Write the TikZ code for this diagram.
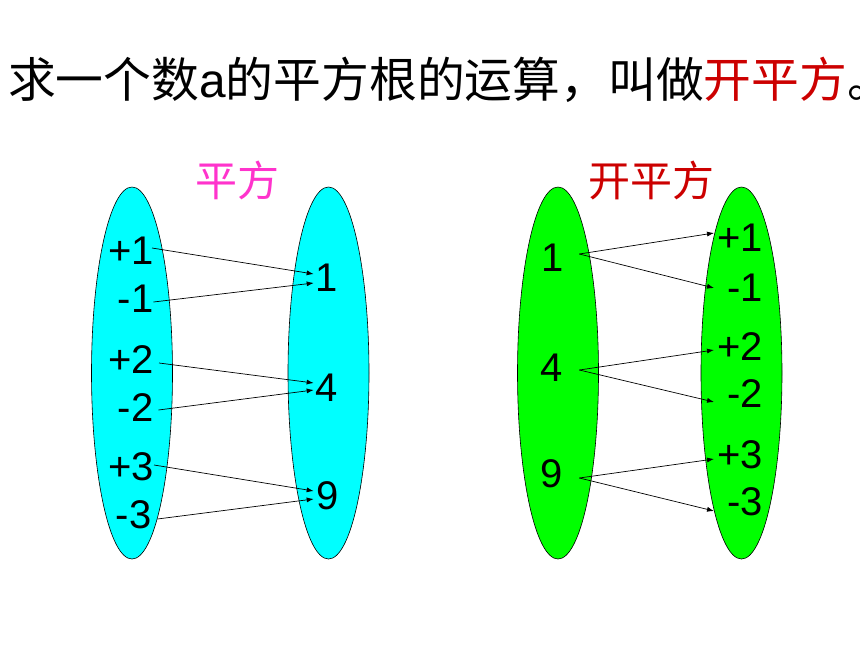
\documentclass[tikz,border=0pt]{standalone}
\usepackage{fontspec}
\setmainfont{Liberation Sans}
\newfontfamily\cjk{Noto Sans CJK SC}
\usetikzlibrary{shapes.geometric,arrows.meta}
\definecolor{pinkish}{RGB}{255,51,204}
\definecolor{darkred}{RGB}{204,0,0}
\definecolor{aqua}{RGB}{0,255,255}
\definecolor{lime}{RGB}{0,255,0}
\begin{document}
\begin{tikzpicture}[x=1pt,y=-1pt,
	num/.style={inner sep=0pt,font=\fontsize{40}{48}\selectfont},
	oval/.style={ellipse,draw,line width=0.6pt,minimum width=81pt,minimum height=372pt},
	arr/.style={-{Latex[length=7pt,width=5pt]},line width=0.7pt}]
	\useasboundingbox (0,0) rectangle (860,645);
	\node[anchor=west,inner sep=0pt,font=\fontsize{47.8}{56}\selectfont] (title) at (8,80)
		{{\cjk 求一个数}a{\cjk 的平方根的运算，叫做}\textcolor{darkred}{\cjk 开平方}{\cjk 。}};
	
	\node[inner sep=0pt,text=pinkish,font=\cjk\fontsize{42}{48}\selectfont] (sq) at (237,180) {平方};
	\node[oval,fill=aqua] (A) at (132,373) {};
	\node[oval,fill=aqua] (B) at (328.5,373) {};
	\node[num] (p1) at (131,251) {+1};
	\node[num] (m1) at (135.5,299) {-1};
	\node[num] (p2) at (131,360) {+2};
	\node[num] (m2) at (135.5,408) {-2};
	\node[num] (p3) at (131,467) {+3};
	\node[num] (m3) at (133.5,515) {-3};
	\node[num] (s1) at (327,278) {1};
	\node[num] (s4) at (327,388) {4};
	\node[num] (s9) at (328,496) {9};
	\draw[arr] ([xshift=-2pt,yshift=3pt]p1.east) -- ([xshift=-2pt,yshift=4pt]s1.west);
	\draw[arr] ([yshift=-3pt]m1.east) -- ([xshift=-2pt,yshift=-5pt]s1.west);
	\draw[arr] ([xshift=5pt,yshift=-3pt]p2.east) -- ([xshift=-2pt,yshift=5pt]s4.west);
	\draw[arr] ([xshift=5pt,yshift=-2pt]m2.east) -- ([xshift=-2pt,yshift=-2pt]s4.west);
	\draw[arr] ([yshift=2pt]p3.east) -- ([xshift=-3pt,yshift=5pt]s9.west);
	\draw[arr] ([xshift=6pt,yshift=-4pt]m3.east) -- ([xshift=-3pt,yshift=-3pt]s9.west);
	
	\node[inner sep=0pt,text=darkred,font=\cjk\fontsize{42}{48}\selectfont] (rt) at (651,180) {开平方};
	\node[oval,fill=lime] (C) at (558,373) {};
	\node[oval,fill=lime] (D) at (741.5,373) {};
	\node[num] (q1) at (553,258) {1};
	\node[num] (q4) at (552,368) {4};
	\node[num] (q9) at (552,474) {9};
	\node[num] (t1) at (740,238) {+1};
	\node[num] (n1) at (745,288) {-1};
	\node[num] (t2) at (740,347) {+2};
	\node[num] (n2) at (745,394) {-2};
	\node[num] (t3) at (740,455) {+3};
	\node[num] (n3) at (745,502) {-3};
	\draw[arr] ([xshift=15pt,yshift=4pt]q1.east) -- ([xshift=-3pt,yshift=5pt]t1.west);
	\draw[arr] ([xshift=15pt,yshift=4pt]q1.east) -- ([xshift=-13pt]n1.west);
	\draw[arr] ([xshift=16pt,yshift=-2pt]q4.east) -- ([xshift=-3pt,yshift=-3pt]t2.west);
	\draw[arr] ([xshift=16pt,yshift=-2pt]q4.east) -- ([xshift=-13pt,yshift=-8pt]n2.west);
	\draw[arr] ([xshift=16pt,yshift=-4pt]q9.east) -- ([xshift=-3pt,yshift=-4pt]t3.west);
	\draw[arr] ([xshift=16pt,yshift=-4pt]q9.east) -- ([xshift=-13pt,yshift=-9pt]n3.west);
\end{tikzpicture}
\end{document}
